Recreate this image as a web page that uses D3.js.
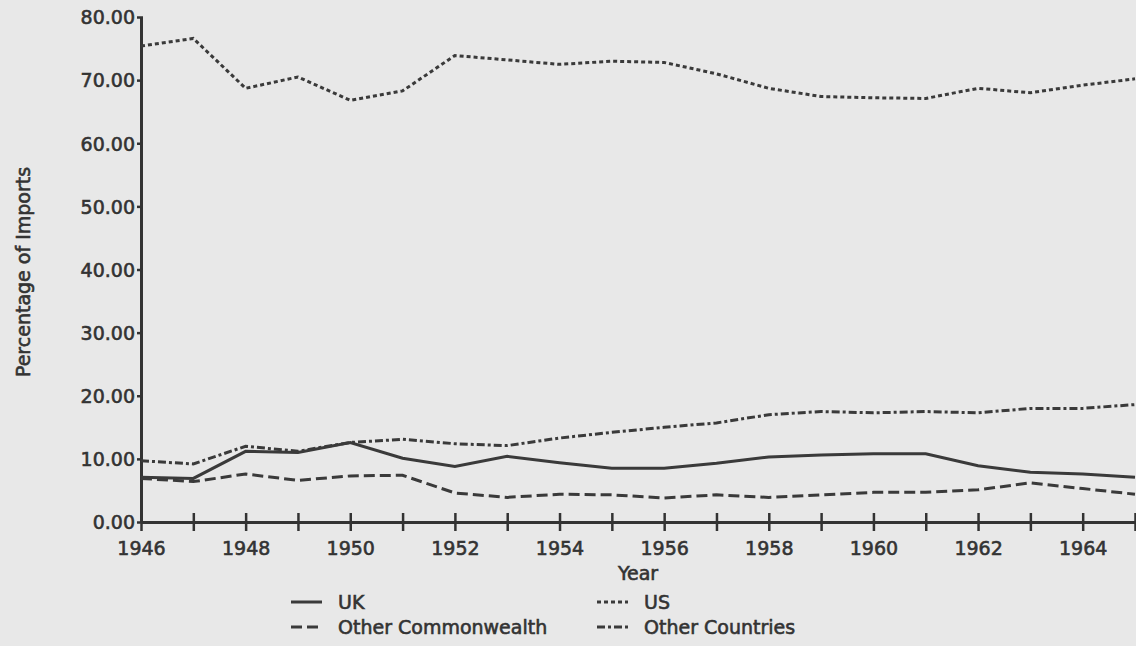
<!DOCTYPE html>
<html lang="en">
<head>
<meta charset="UTF-8">
<title>Percentage of Imports 1946-1965</title>
<script src="https://d3js.org/d3.v7.min.js"></script>
<style>
    body { margin: 0; background: #e8e8e8; }
    svg { display: block; }
    text { font-family: "DejaVu Sans", sans-serif; fill: #333; stroke: #333; stroke-width: 0.6px; }
    .axis path, .axis line { stroke: #333; stroke-width: 3; }
    .series { fill: none; stroke: #3a3a3a; stroke-width: 3; }
</style>
</head>
<body>
<svg width="1136" height="646"></svg>
<script>
    // Data
    const years = d3.range(1946, 1966);
    const uk = [7.1, 6.9, 11.2, 11.0, 12.6, 10.1, 8.8, 10.4, 9.4, 8.5, 8.5, 9.3, 10.3, 10.6, 10.8, 10.8, 8.9, 7.9, 7.6, 7.1];
    const us = [75.4, 76.6, 68.7, 70.5, 66.8, 68.3, 73.9, 73.2, 72.5, 73.0, 72.8, 71.0, 68.7, 67.4, 67.2, 67.1, 68.7, 68.0, 69.2, 70.2];
    const otherCommonwealth = [6.9, 6.4, 7.6, 6.6, 7.3, 7.4, 4.6, 3.9, 4.4, 4.3, 3.8, 4.3, 3.9, 4.3, 4.7, 4.7, 5.1, 6.2, 5.3, 4.4];
    const otherCountries = [9.7, 9.2, 12.0, 11.2, 12.6, 13.1, 12.4, 12.1, 13.3, 14.2, 15.0, 15.7, 17.0, 17.5, 17.3, 17.5, 17.3, 18.0, 18.0, 18.6];
    const yTicks = [0, 10, 20, 30, 40, 50, 60, 70, 80];
    const xLabels = [1946, 1948, 1950, 1952, 1954, 1956, 1958, 1960, 1962, 1964];

    const series = [
        {name: "UK", values: uk, dash: null},
        {name: "US", values: us, dash: "4,3"},
        {name: "Other Commonwealth", values: otherCommonwealth, dash: "11,5"},
        {name: "Other Countries", values: otherCountries, dash: "8,3,3,3"}
    ];

    const svg = d3.select("svg");

    const x = d3.scaleLinear().domain([1946, 1965]).range([141, 1135]);
    const y = d3.scaleLinear().domain([0, 80]).range([522, 17]);

    // y axis
    const yAxis = svg.append("g")
        .attr("class", "axis")
        .attr("transform", "translate(141,0)")
        .call(d3.axisLeft(y).tickValues(yTicks).tickFormat(d3.format(".2f")).tickSizeInner(4).tickSizeOuter(0).tickPadding(2));
    yAxis.selectAll("line").attr("x2", -4).attr("x1", 2).style("stroke-width", 2.5);
    yAxis.selectAll("text").style("font-size", "19px").attr("dy", "0.36em");

    // x axis
    const xAxis = svg.append("g")
        .attr("class", "axis")
        .attr("transform", "translate(0,522)")
        .call(d3.axisBottom(x).tickValues(years)
            .tickFormat(d => xLabels.includes(d) ? d : "")
            .tickSizeInner(9).tickSizeOuter(0).tickPadding(11));
    xAxis.selectAll("line").attr("y1", -9).style("stroke-width", 2.5);
    xAxis.selectAll("text").style("font-size", "19px");

    // axis titles
    svg.append("text")
        .attr("x", 638).attr("y", 580)
        .attr("text-anchor", "middle")
        .style("font-size", "19px")
        .text("Year");

    svg.append("text")
        .attr("transform", "translate(30,272) rotate(-90)")
        .attr("text-anchor", "middle")
        .style("font-size", "19px")
        .text("Percentage of Imports");

    // lines
    const line = d3.line()
        .x((d, i) => x(years[i]))
        .y(d => y(d));

    svg.selectAll(".series")
        .data(series)
        .enter().append("path")
        .attr("class", "series")
        .attr("d", d => line(d.values))
        .attr("stroke-dasharray", d => d.dash);

    // legend
    const legendPos = [
        {lx: 291, ty: 609},
        {lx: 597, ty: 609},
        {lx: 291, ty: 634},
        {lx: 597, ty: 634}
    ];
    const legend = svg.selectAll(".legend")
        .data(series)
        .enter().append("g")
        .attr("class", "legend")
        .attr("transform", (d, i) => `translate(${legendPos[i].lx},${legendPos[i].ty})`);

    legend.append("line")
        .attr("class", "series")
        .attr("x1", 0).attr("x2", 31)
        .attr("y1", -7).attr("y2", -7)
        .attr("stroke-dasharray", d => d.dash);

    legend.append("text")
        .attr("x", 47)
        .style("font-size", "19px")
        .text(d => d.name);
</script>
</body>
</html>
